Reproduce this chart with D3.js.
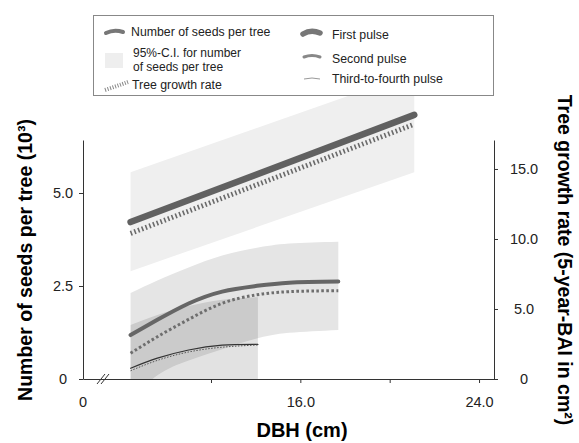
<!DOCTYPE html>
<html>
<head>
<meta charset="utf-8">
<script src="https://cdn.jsdelivr.net/npm/d3@7"></script>
<style>
  body { margin: 0; background: #fff; }
  svg { font-family: "Liberation Sans", Arial, sans-serif; }
</style>
</head>
<body>
<svg id="chart" width="579" height="443"></svg>
<script>
// first pulse: linear fit
const dbhFirst = [8.4, 21.1];
const seedsFirst = [4.22, 7.10];
const seedsFirstLo = [2.90, 5.56];
const seedsFirstHi = [5.56, 8.23];
const growthFirst = [10.4, 18.2];

// second pulse
const dbhSecond = [8.4, 9.6, 11.0, 12.5, 14.0, 15.5, 17.7];
const seedsSecond = [1.18, 1.59, 2.03, 2.35, 2.50, 2.59, 2.62];
const seedsSecondLo = [-0.6, 0.1, 0.5, 0.8, 1.08, 1.24, 1.32];
const seedsSecondHi = [2.31, 2.65, 3.0, 3.32, 3.52, 3.64, 3.69];
const growthSecond = [1.84, 3.02, 4.26, 5.41, 6.0, 6.24, 6.31];

// third-to-fourth pulse
const dbhThird = [8.4, 9.6, 11.0, 12.5, 14.1];
const seedsThird = [0.29, 0.56, 0.78, 0.91, 0.93];
const seedsThirdLo = [-1.0, -0.8, -0.6, -0.5, -0.4];
const seedsThirdHi = [1.45, 1.72, 1.96, 2.13, 2.20];
const growthThird = [0.59, 1.33, 1.93, 2.27, 2.43];

const seedTicks = [0, 2.5, 5];
const seedTickLabels = ["0", "2.5", "5.0"];
const growthTicks = [0, 5, 10, 15];
const growthTickLabels = ["0", "5.0", "10.0", "15.0"];
const dbhTicks = [12, 16, 20, 24];
const dbhTickLabels = ["", "16.0", "", "24.0"];

const svg = d3.select("#chart");

const x = d3.scaleLinear().domain([6.27, 24.67]).range([83, 494]);
const yL = d3.scaleLinear().domain([0, 6.425]).range([379, 140]);
const yR = d3.scaleLinear().domain([0, 17.07]).range([379, 140]);

const rows = (xs, ...cols) => xs.map((d, i) => [d, ...cols.map(c => c[i])]);

svg.append("clipPath").attr("id", "plot")
  .append("rect")
    .attr("x", x.range()[0]).attr("y", 0)
    .attr("width", x.range()[1] - x.range()[0])
    .attr("height", yL.range()[0]);

const band = d3.area()
  .curve(d3.curveNatural)
  .x(d => x(d[0]))
  .y0(d => yL(d[1]))
  .y1(d => yL(d[2]));

const seedLine = d3.line().curve(d3.curveNatural).x(d => x(d[0])).y(d => yL(d[1]));
const growLine = d3.line().curve(d3.curveNatural).x(d => x(d[0])).y(d => yR(d[1]));

const bands = svg.append("g").attr("clip-path", "url(#plot)").style("isolation", "isolate");

bands.append("path")
  .attr("d", band(rows(dbhFirst, seedsFirstLo, seedsFirstHi)))
  .attr("fill", "#efefef");

bands.append("path")
  .attr("d", band(rows(dbhSecond, seedsSecondLo, seedsSecondHi)))
  .attr("fill", "#e5e5e5")
  .style("mix-blend-mode", "multiply");

bands.append("path")
  .attr("d", band(rows(dbhThird, seedsThirdLo, seedsThirdHi)))
  .attr("fill", "#e2e2e2")
  .style("mix-blend-mode", "multiply");

//lines
const lines = [
  {d: seedLine(rows(dbhFirst, seedsFirst)), stroke: "#616161", width: 6.5, dash: null},
  {d: growLine(rows(dbhFirst, growthFirst)), stroke: "#6a6a6a", width: 5, dash: "1.6 2.4"},
  {d: seedLine(rows(dbhSecond, seedsSecond)), stroke: "#666", width: 4, dash: null},
  {d: growLine(rows(dbhSecond, growthSecond)), stroke: "#6e6e6e", width: 3, dash: "2.6 2.4"},
  {d: seedLine(rows(dbhThird, seedsThird)), stroke: "#333", width: 1.2, dash: null},
  {d: growLine(rows(dbhThird, growthThird)), stroke: "#555", width: 1, dash: "1.5 1.5"}
];

svg.append("g").selectAll("path")
  .data(lines)
  .enter()
  .append("path")
    .attr("d", d => d.d)
    .attr("fill", "none")
    .attr("stroke", d => d.stroke)
    .attr("stroke-width", d => d.width)
    .attr("stroke-dasharray", d => d.dash)
    .attr("stroke-linecap", d => d.dash ? "butt" : "round");

// axes
const styleAxis = (g) => {
  g.attr("font-family", null);
  g.select(".domain").attr("stroke", "#333");
  g.selectAll(".tick line").attr("stroke", "#333");
  g.selectAll(".tick text").attr("fill", "#222").style("font-size", "14.5px");
};

svg.append("g")
  .attr("transform", `translate(${x.range()[0]},0)`)
  .call(d3.axisLeft(yL).tickValues(seedTicks).tickSize(4).tickSizeOuter(0)
    .tickFormat((d, i) => seedTickLabels[i]))
  .call(styleAxis)
  .call(g => g.selectAll(".tick text").attr("x", -20).attr("text-anchor", "middle"));

svg.append("g")
  .attr("transform", `translate(${x.range()[1]},0)`)
  .call(d3.axisRight(yR).tickValues(growthTicks).tickSize(4).tickSizeOuter(0)
    .tickFormat((d, i) => growthTickLabels[i]))
  .call(styleAxis)
  .call(g => g.selectAll(".tick text").attr("x", 30).attr("text-anchor", "middle"));

svg.append("g")
  .attr("transform", `translate(0,${yL.range()[0]})`)
  .call(d3.axisBottom(x).tickValues(dbhTicks).tickSize(4).tickSizeOuter(0)
    .tickFormat((d, i) => dbhTickLabels[i]))
  .call(styleAxis)
  .call(g => g.selectAll(".tick text").attr("y", 18));

// axis break and origin label
const bx = x.range()[0] + 14, by = yL.range()[0];
[0, 4].forEach(o => {
  svg.append("line")
    .attr("x1", bx + o).attr("y1", by + 5)
    .attr("x2", bx + o + 8).attr("y2", by - 5)
    .attr("stroke", "#333").attr("stroke-width", 1);
});

svg.append("text")
  .attr("x", x.range()[0]).attr("y", by + 28)
  .attr("text-anchor", "middle")
  .style("font-size", "14.5px").attr("fill", "#222")
  .text("0");

// titles
svg.append("text")
  .attr("transform", "translate(32,260) rotate(-90)")
  .attr("text-anchor", "middle")
  .style("font-size", "19.5px").style("font-weight", "bold")
  .text("Number of seeds per tree (10³)");

svg.append("text")
  .attr("transform", "translate(558,260) rotate(90)")
  .attr("text-anchor", "middle")
  .style("font-size", "19.5px").style("font-weight", "bold")
  .text("Tree growth rate (5-year-BAI in cm²)");

svg.append("text")
  .attr("x", 302).attr("y", 437)
  .attr("text-anchor", "middle")
  .style("font-size", "20px").style("font-weight", "bold")
  .text("DBH (cm)");

// legend
const legend = svg.append("g");
legend.append("rect")
  .attr("x", 93.5).attr("y", 15.5)
  .attr("width", 400).attr("height", 80)
  .attr("fill", "#fff").attr("stroke", "#888");

legend.append("path").attr("d", "M106,33 Q114,29 123,32")
  .attr("fill", "none").attr("stroke", "#777").attr("stroke-width", 4).attr("stroke-linecap", "round");
legend.append("path").attr("d", "M105,53 L123,53 L123,68 L105,68 Z").attr("fill", "#eee");
legend.append("path").attr("d", "M105,90 Q117,86 128,82")
  .attr("fill", "none").attr("stroke", "#888").attr("stroke-width", 4).attr("stroke-dasharray", "1 1.6");
legend.append("path").attr("d", "M303,34 Q311,29 320,33")
  .attr("fill", "none").attr("stroke", "#777").attr("stroke-width", 5.5).attr("stroke-linecap", "round");
legend.append("path").attr("d", "M304,57 Q312,54 320,57")
  .attr("fill", "none").attr("stroke", "#888").attr("stroke-width", 3).attr("stroke-linecap", "round");
legend.append("path").attr("d", "M304,79 Q312,77 320,79")
  .attr("fill", "none").attr("stroke", "#999").attr("stroke-width", 1);

const legendText = [
  {x: 131, y: 36, t: "Number of seeds per tree", s: 12.3},
  {x: 133, y: 56.5, t: "95%-C.I. for number", s: 12},
  {x: 133, y: 70.5, t: "of seeds per tree", s: 12},
  {x: 132, y: 89, t: "Tree growth rate", s: 12.3},
  {x: 332, y: 39, t: "First pulse", s: 12.3},
  {x: 332, y: 63, t: "Second pulse", s: 12.3},
  {x: 332, y: 83, t: "Third-to-fourth pulse", s: 12.3}
];

legend.selectAll("text.lbl")
  .data(legendText)
  .enter()
  .append("text")
    .attr("class", "lbl")
    .attr("x", d => d.x).attr("y", d => d.y)
    .style("font-size", d => d.s + "px").attr("fill", "#222")
    .text(d => d.t);
</script>
</body>
</html>
